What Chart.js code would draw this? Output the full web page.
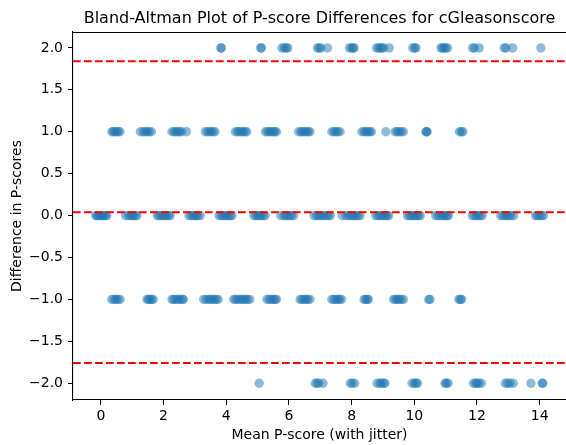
<!DOCTYPE html>
<html>
<head>
<meta charset="utf-8">
<script src="https://cdn.jsdelivr.net/npm/chart.js@4.4.0/dist/chart.umd.min.js"></script>
<style>
  html, body { margin: 0; padding: 0; background: #fff; }
  #wrap { width: 566px; height: 445px; position: relative; }
</style>
</head>
<body>
<div id="wrap"><canvas id="c"></canvas></div>
<script>
// ---- Data ----
const chartTitle = "Bland-Altman Plot of P-score Differences for cGleasonscore";
const xAxisLabel = "Mean P-score (with jitter)";
const yAxisLabel = "Difference in P-scores";

const diffLevels = [2, 1, 0, -1, -2];

// Mean P-score (x, with jitter) for each difference level
const meanAtDiffPlus2 = [3.83, 3.84, 5.10, 5.12, 5.78, 5.85, 5.92, 5.96, 6.91, 6.97, 7.02, 7.23,
  7.93, 8.00, 8.05, 8.08, 8.80, 8.86, 8.92, 8.97, 9.02, 9.20, 9.95, 10.02, 10.05,
  10.85, 10.90, 10.95, 11.00, 11.06, 11.86, 11.92, 12.07, 12.87, 12.93, 13.14, 14.04];

const meanAtDiffPlus1 = [0.35, 0.40, 0.45, 0.50, 0.55, 0.61, 1.26, 1.35, 1.42, 1.48, 1.54, 1.61,
  2.27, 2.34, 2.40, 2.46, 2.52, 2.58, 2.73, 3.33, 3.40, 3.46, 3.52, 3.58, 3.64,
  4.29, 4.36, 4.42, 4.48, 4.54, 4.60, 4.65, 5.25, 5.32, 5.38, 5.44, 5.50, 5.55, 5.60,
  6.31, 6.38, 6.44, 6.50, 6.56, 6.62, 6.67, 7.37, 7.44, 7.50, 7.56, 7.63,
  8.33, 8.40, 8.46, 8.52, 8.58, 8.63, 9.09, 9.39, 9.45, 9.52, 9.58, 9.65,
  10.37, 10.39, 10.41, 11.44, 11.50, 11.55];

const meanAtDiffZero = [-0.17, -0.12, -0.08, -0.03, 0.02, 0.06, 0.10, 0.15, 0.19,
  0.79, 0.88, 0.95, 1.00, 1.05, 1.10, 1.15, 1.80, 1.86, 1.92, 1.98, 2.04, 2.10, 2.16, 2.21,
  2.81, 2.88, 2.95, 3.00, 3.05, 3.10, 3.17, 3.77, 3.84, 3.90, 3.96, 4.02, 4.08, 4.13, 4.18,
  4.88, 4.95, 5.00, 5.06, 5.12, 5.18, 5.24, 5.74, 5.84, 5.90, 5.96, 6.02, 6.08, 6.15,
  6.80, 6.88, 6.94, 7.00, 7.06, 7.12, 7.20, 7.26, 7.32, 7.70, 7.82, 7.90, 7.96, 8.02, 8.08, 8.14, 8.20, 8.27,
  8.77, 8.84, 8.90, 8.96, 9.02, 9.08, 9.13, 9.18, 9.78, 9.85, 9.90, 9.96, 10.02, 10.08, 10.14, 10.19,
  10.68, 10.75, 10.82, 10.88, 10.94, 11.00, 11.05, 11.09, 11.85, 11.92, 11.98, 12.04, 12.10, 12.16,
  12.76, 12.83, 12.90, 12.96, 13.02, 13.08, 13.17, 13.87, 13.93, 14.00, 14.06, 14.12];

const meanAtDiffMinus1 = [0.35, 0.42, 0.48, 0.54, 0.61, 1.47, 1.52, 1.57, 1.62, 1.67,
  2.27, 2.33, 2.40, 2.47, 2.53, 2.60, 2.63, 3.28, 3.36, 3.44, 3.50, 3.56, 3.62, 3.68, 3.74,
  4.24, 4.30, 4.37, 4.44, 4.50, 4.56, 4.62, 4.68, 4.75, 5.30, 5.37, 5.44, 5.50, 5.56, 5.60,
  6.36, 6.42, 6.48, 6.54, 6.60, 6.67, 7.37, 7.44, 7.50, 7.56, 7.62, 7.68,
  8.40, 8.45, 8.50, 8.53, 9.34, 9.40, 9.46, 9.52, 9.58, 9.65, 10.46, 10.50, 11.42, 11.47, 11.51];

const meanAtDiffMinus2 = [5.05, 6.84, 6.90, 6.96, 7.09, 7.96, 8.02, 8.10, 8.81, 8.90, 8.95, 9.03, 9.06,
  9.93, 10.00, 10.06, 10.10, 10.98, 11.02, 11.08, 11.89, 11.96, 12.00, 12.06, 12.14,
  12.90, 12.98, 13.05, 13.16, 13.72, 14.09, 14.09];

// Limits of agreement (upper, mean, lower)
const agreementLines = [1.84, 0.04, -1.76];

// Tick values and labels
const xTickValues = [0, 2, 4, 6, 8, 10, 12, 14];
const xTickLabels = ["0", "2", "4", "6", "8", "10", "12", "14"];
const yTickValues = [2.0, 1.5, 1.0, 0.5, 0.0, -0.5, -1.0, -1.5, -2.0];
const yTickLabels = ["2.0", "1.5", "1.0", "0.5", "0.0", "\u22120.5", "\u22121.0", "\u22121.5", "\u22122.0"];

// ---- Build points ----
const meanGroups = [meanAtDiffPlus2, meanAtDiffPlus1, meanAtDiffZero, meanAtDiffMinus1, meanAtDiffMinus2];
const points = [];
meanGroups.forEach((xs, i) => xs.forEach(x => points.push({ x: x, y: diffLevels[i] })));

const FONT = "'DejaVu Sans', sans-serif";

const framePlugin = {
  id: 'frame',
  afterDatasetsDraw(chart) {
    const { ctx, chartArea: a, scales } = chart;
    ctx.save();
    // agreement lines
    ctx.strokeStyle = '#ff0000';
    ctx.lineWidth = 2;
    ctx.setLineDash([7.7, 3.3]);
    agreementLines.forEach(v => {
      const y = scales.y.getPixelForValue(v);
      ctx.beginPath();
      ctx.moveTo(a.left, y);
      ctx.lineTo(a.right, y);
      ctx.stroke();
    });
    ctx.setLineDash([]);
    // top spine
    ctx.strokeStyle = '#000';
    ctx.lineWidth = 1.1;
    ctx.beginPath();
    ctx.moveTo(a.left, Math.round(a.top) + 0.5);
    ctx.lineTo(a.right, Math.round(a.top) + 0.5);
    ctx.stroke();
    ctx.restore();
  }
};

new Chart(document.getElementById('c'), {
  type: 'scatter',
  data: {
    datasets: [{
      data: points,
      backgroundColor: 'rgba(31,119,180,0.5)',
      borderWidth: 0,
      pointRadius: 4.7,
      pointHoverRadius: 4.7
    }]
  },
  options: {
    responsive: true,
    maintainAspectRatio: false,
    animation: false,
    layout: { padding: 0, autoPadding: false },
    plugins: {
      legend: { display: false },
      tooltip: { enabled: false },
      title: {
        display: true,
        fullSize: false,
        text: chartTitle,
        color: '#000',
        font: { family: FONT, size: 16, weight: 'normal' },
        padding: { top: 9, bottom: 3.8 }
      }
    },
    scales: {
      x: {
        type: 'linear',
        min: -0.89,
        max: 14.84,
        afterFit(s) { s.height = 45; s.paddingLeft = 0; s.paddingRight = 0; },
        afterBuildTicks(s) { s.ticks = xTickValues.map(v => ({ value: v })); },
        border: { display: true, color: '#000', width: 1.1 },
        grid: { display: true, drawOnChartArea: false, drawTicks: true, tickLength: 5, tickColor: '#000', tickWidth: 1 },
        ticks: {
          color: '#000',
          font: { family: FONT, size: 14 },
          padding: 3,
          maxRotation: 0,
          autoSkip: false,
          callback: (v, i) => xTickLabels[i]
        },
        title: {
          display: true,
          text: xAxisLabel,
          color: '#000',
          font: { family: FONT, size: 14 },
          padding: { top: 0, bottom: 1 }
        }
      },
      y: {
        type: 'linear',
        min: -2.2,
        max: 2.19,
        afterFit(s) { s.width = 73; s.paddingTop = 0; s.paddingBottom = 0; },
        afterBuildTicks(s) { s.ticks = yTickValues.map(v => ({ value: v })); },
        border: { display: true, color: '#000', width: 1.1 },
        grid: { display: true, drawOnChartArea: false, drawTicks: true, tickLength: 5, tickColor: '#000', tickWidth: 1 },
        ticks: {
          color: '#000',
          font: { family: FONT, size: 14 },
          padding: 5,
          autoSkip: false,
          callback: (v, i) => yTickLabels[i]
        },
        title: {
          display: true,
          text: yAxisLabel,
          color: '#000',
          font: { family: FONT, size: 14 },
          padding: { top: 8.6, bottom: 0 }
        }
      }
    }
  },
  plugins: [framePlugin]
});
</script>
</body>
</html>
